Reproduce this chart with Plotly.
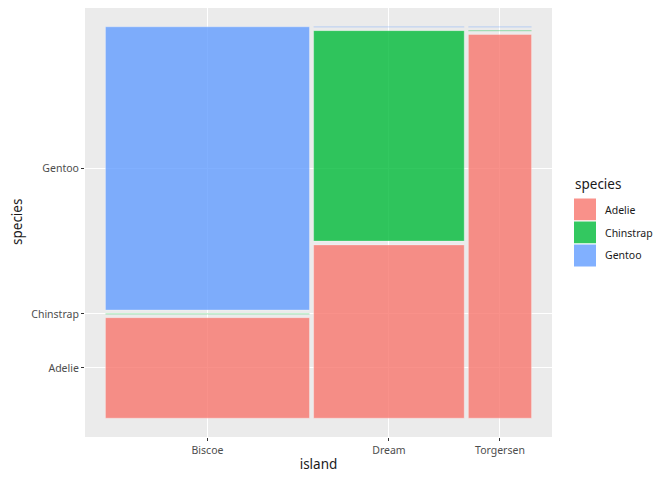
import plotly.graph_objects as go

islands = ["Biscoe", "Dream", "Torgersen"]
species = ["Adelie", "Chinstrap", "Gentoo"]
adelie_counts = [44, 56, 52]
chinstrap_counts = [0, 68, 0]
gentoo_counts = [124, 0, 0]

colors = {"Adelie": "248,118,109", "Chinstrap": "0,186,56", "Gentoo": "97,156,255"}
counts = {"Adelie": adelie_counts, "Chinstrap": chinstrap_counts, "Gentoo": gentoo_counts}

offset = 0.01
totals = [sum(counts[s][i] for s in species) for i in range(len(islands))]
grand = sum(totals)

x_left, x_right = [], []
cur = 0.0
for i, t in enumerate(totals):
    w = t / grand
    x_left.append(cur)
    x_right.append(cur + w)
    cur += w + offset

rects = {s: [] for s in species}
for i, t in enumerate(totals):
    y = 0.0
    for s in species:
        h = counts[s][i] / t
        rects[s].append((x_left[i], x_right[i], y, y + h))
        y += h + offset

fig = go.Figure()
for s in species:
    xs, ys = [], []
    zx, zy = [], []
    for (x0, x1, y0, y1) in rects[s]:
        if y1 - y0 > 0:
            xs += [x0, x1, x1, x0, x0, None]
            ys += [y0, y0, y1, y1, y0, None]
        else:
            zx += [x0, x1, None]
            zy += [y0, y0, None]
    fig.add_trace(go.Scatter(x=xs, y=ys, fill="toself", mode="lines",
                             fillcolor=f"rgba({colors[s]},0.8)",
                             line=dict(color="rgba(255,255,255,0.3)", width=1),
                             showlegend=False, hoverinfo="skip"))
    if zx:
        fig.add_trace(go.Scatter(x=zx, y=zy, mode="lines",
                                 line=dict(color=f"rgba({colors[s]},0.3)", width=1.2),
                                 showlegend=False, hoverinfo="skip"))

x_ticks = [(x_left[i] + x_right[i]) / 2 for i in range(len(islands))]
y_ticks = [(r[2] + r[3]) / 2 for r in (rects[s][0] for s in species)]

# Page has an 8px body margin; figure coordinates are offset by it.
OFF = 8
W, H = 672 - OFF, 480 - OFF
pl, pr, pt, pb = 85 - OFF, 552 - OFF, 0, 437 - OFF

def px(x):
    return (x - OFF - pl) / (pr - pl)

def py(y):
    return (pb - (y - OFF)) / (pb - pt)

shapes = []
annotations = []
annotations.append(dict(x=px(17), y=py(222), xref="paper", yref="paper", text="species",
                        showarrow=False, xanchor="center", yanchor="middle", textangle=-90,
                        font=dict(size=13.5, color="#1a1a1a")))
annotations.append(dict(x=px(573), y=py(184), xref="paper", yref="paper", text="species",
                        showarrow=False, xanchor="left", yanchor="middle",
                        font=dict(size=13.5, color="#1a1a1a")))
for k, s in enumerate(species):
    top = 198 + k * 23
    shapes.append(dict(type="rect", xref="paper", yref="paper",
                       x0=px(573.5), x1=px(596.5), y0=py(top + 23), y1=py(top),
                       fillcolor=f"rgba({colors[s]},0.8)",
                       line=dict(color="white", width=1)))
    annotations.append(dict(x=px(603), y=py(top + 11.5), xref="paper", yref="paper", text=s,
                            showarrow=False, xanchor="left", yanchor="middle",
                            font=dict(size=10.5, color="#1a1a1a")))

fig.update_layout(
    width=W, height=H,
    margin=dict(l=pl, r=W - pr, t=pt, b=H - pb, autoexpand=False),
    paper_bgcolor="white", plot_bgcolor="#EBEBEB",
    font=dict(family="Noto Sans", size=10.5, color="#4D4D4D"),
    shapes=shapes, annotations=annotations, showlegend=False,
    xaxis=dict(range=[-0.049, 1.069], tickvals=x_ticks, ticktext=islands,
               showgrid=True, gridcolor="white", gridwidth=1.1, zeroline=False,
               ticks="outside", ticklen=3, tickcolor="#333333", tickwidth=1,
               tickfont=dict(size=10.5, color="#4D4D4D"),
               title=dict(text="island", font=dict(size=13.5, color="#1a1a1a"), standoff=3),
               fixedrange=True, automargin=False),
    yaxis=dict(range=[-0.049, 1.069], tickvals=y_ticks, ticktext=species,
               showgrid=True, gridcolor="white", gridwidth=1.1, zeroline=False,
               ticks="outside", ticklen=3, tickcolor="#333333", tickwidth=1,
               tickfont=dict(size=10.5, color="#4D4D4D"),
               fixedrange=True, automargin=False),
)

fig.write_html("out.html")
